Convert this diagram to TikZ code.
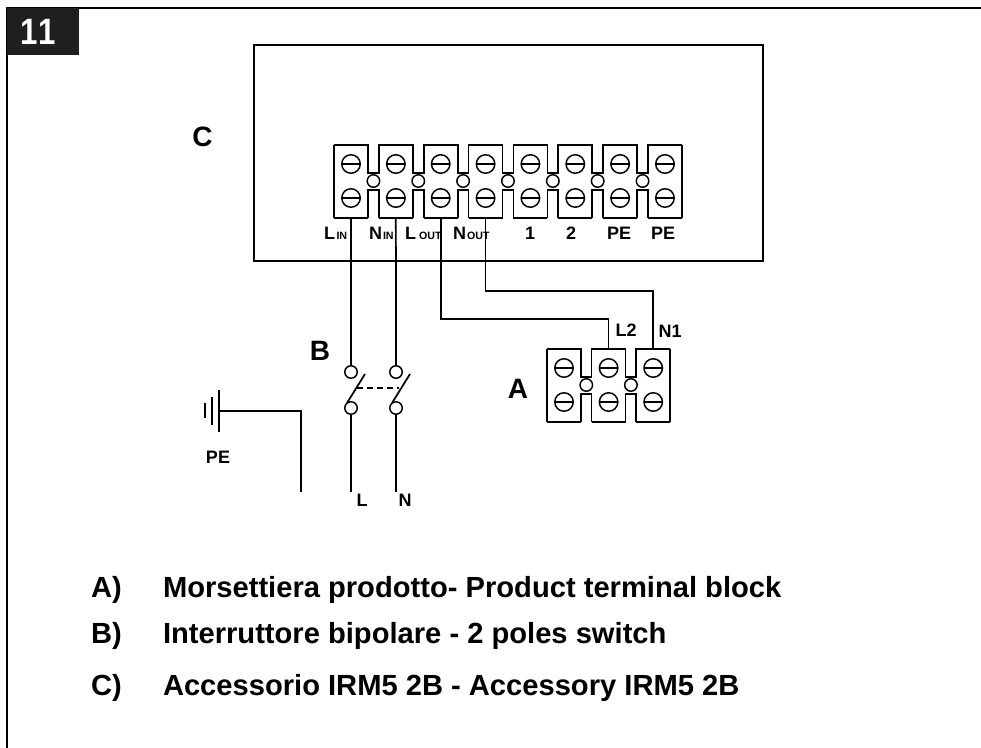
\documentclass[tikz,border=0pt]{standalone}
\usepackage{fontspec}
\usepackage{graphicx}
\setmainfont{Liberation Sans}
\newcommand{\txt}[2]{{\fontsize{#1}{#1}\selectfont\bfseries #2}}
\tikzset{
  x=0.75pt,y=-0.75pt,
  wire/.style={draw=black,line width=1.3pt,line join=miter},
  thinw/.style={draw=black,line width=1pt},
  lab/.style={inner sep=0pt,outer sep=0pt,anchor=base west},
  labc/.style={inner sep=0pt,outer sep=0pt,anchor=base},
  pin/.style={circle,draw=black,line width=1.1pt,fill=white,minimum size=12.5*0.75pt,inner sep=0pt,outer sep=0pt},
  screw/.style={circle,draw=black,line width=1.1pt,minimum size=18.5*0.75pt,inner sep=0pt,outer sep=0pt,
    path picture={\draw[line width=1.1pt] (path picture bounding box.west) -- (path picture bounding box.east);}},
}
% #1 name, #2 left x, #3 top y, #4 pitch, #5 last cell index
\newcommand{\termblock}[5]{%
  \draw[wire] (#2,#3)
  \foreach \i [evaluate=\i as \xl using #2+(\i-1)*#4, evaluate=\i as \xr using #2+(\i-1)*#4+34] in {1,...,#5}{
     -- (\xl,#3) -- (\xr,#3)
     \ifnum\i<#5 -- (\xr,#3+28) -- (\xr+#4-34,#3+28) -- (\xr+#4-34,#3) \fi
  };
  \draw[wire] (#2,#3) -- (#2,#3+73);
  \draw[wire] (#2+#5*#4-#4+34,#3) -- (#2+#5*#4-#4+34,#3+73);
  \foreach \i [evaluate=\i as \xl using #2+(\i-1)*#4, evaluate=\i as \xr using #2+(\i-1)*#4+34] in {1,...,#5}{
     \draw[wire] (\xl,#3+73) -- (\xr,#3+73);
     \node[screw] (#1s\i) at (\xl+17,#3+19) {};
     \node[screw] (#1t\i) at (\xl+17,#3+53) {};
     \coordinate (#1u\i) at (\xl+17,#3);
     \coordinate (#1d\i) at (\xl+17,#3+73);
     \ifnum\i<#5
       \draw[wire] (\xr,#3+73) -- (\xr,#3+45) -- (\xr+#4-34,#3+45) -- (\xr+#4-34,#3+73);
       \node[pin] (#1p\i) at (\xr+#4/2-17,#3+36) {};
     \fi
  }%
}
\begin{document}
\begin{tikzpicture}
\useasboundingbox (0,0) rectangle (981,748);
% frame
\coordinate (fa) at (7,748); \coordinate (fb) at (7,8); \coordinate (fc) at (981,8);
\draw[line width=1.5pt] (fa) -- (fb) -- (fc);
\node[fill=black!88,minimum width=72*0.75pt,minimum height=47*0.75pt,inner sep=0pt,anchor=north west] (tag) at (7,8) {};
\node[labc,text=white] (tagt) at (38.5,44.5) {\scalebox{0.85}[1]{\txt{27.5}{1\kern0.5pt 1}}};
% box C
\node[draw=black,line width=1.3pt,minimum width=509*0.75pt,minimum height=216*0.75pt,inner sep=0pt,anchor=north west] (boxc) at (253,44) {};
\node[labc] (lc) at (202.5,147) {\txt{21}{C}};
\termblock{c}{334}{145}{44.85}{8}
% terminal labels
\node[lab] (l1) at (324,240) {\txt{13.5}{L}};
\node[lab] (l1b) at (336.5,240) {\txt{8}{IN}};
\node[lab] (l2) at (369,240) {\txt{13.5}{N}};
\node[lab] (l2b) at (383,240) {\txt{8}{IN}};
\node[lab] (l3) at (405,240) {\txt{13.5}{L}};
\node[lab] (l3b) at (419,240) {\txt{8}{OUT}};
\node[lab] (l4) at (453,240) {\txt{13.5}{N}};
\node[lab] (l4b) at (467,240) {\txt{8}{OUT}};
\node[labc] (l5) at (530,240) {\txt{13.5}{1}};
\node[labc] (l6) at (571,240) {\txt{13.5}{2}};
\node[labc] (l7) at (619,240) {\txt{13.5}{PE}};
\node[labc] (l8) at (663,240) {\txt{13.5}{PE}};
% block A
\termblock{a}{547}{349}{44.6}{3}
\node[labc] (la) at (518,398) {\txt{21}{A}};
\node[labc] (ll2) at (626,337) {\txt{13.5}{L2}};
\node[labc] (ln1) at (670,338) {\txt{13.5}{N1}};
% switch
\node[labc] (lb) at (320,360) {\txt{21}{B}};
\node[pin] (s1) at (351,372) {};
\node[pin] (s2) at (396,372) {};
\node[pin] (s3) at (351,408) {};
\node[pin] (s4) at (396,408) {};
\coordinate (b1a) at (347,403); \coordinate (b1b) at (365,374);
\coordinate (b2a) at (392,403); \coordinate (b2b) at (410,374);
\draw[wire] (b1a) -- (b1b);
\draw[wire] (b2a) -- (b2b);
\coordinate (dl) at (357,388); \coordinate (dr) at (399,388);
\draw[thinw,dash pattern=on 6*0.75pt off 4*0.75pt] (dl) -- (dr);
\coordinate (e1) at (351,492); \coordinate (e2) at (396,492);
\draw[wire] (cd1) -- (s1);
\draw[wire] (cd2) -- (s2);
\draw[wire] (s3) -- (e1);
\draw[wire] (s4) -- (e2);
\node[labc] (tl) at (362,506) {\txt{13.5}{L}};
\node[labc] (tn) at (405,506) {\txt{13.5}{N}};
% load wires
\coordinate (c3b) at (cd3 |- 0,319);
\coordinate (a2t) at (au2 |- 0,319);
\coordinate (c4b) at (cd4 |- 0,291);
\coordinate (a3t) at (au3 |- 0,291);
\draw[wire] (cd3) -- (c3b) -- (a2t) -- (au2);
\draw[wire] (cd4) -- (c4b) -- (a3t) -- (au3);
% earth
\coordinate (g1a) at (219,390); \coordinate (g1b) at (219,432);
\coordinate (g2a) at (212,397); \coordinate (g2b) at (212,425);
\coordinate (g3a) at (205,403); \coordinate (g3b) at (205,418);
\coordinate (g0) at (219,411); \coordinate (g4) at (301,411); \coordinate (g5) at (301,492);
\draw[wire] (g1a) -- (g1b);
\draw[thinw] (g2a) -- (g2b);
\draw[thinw] (g3a) -- (g3b);
\draw[wire] (g0) -- (g4) -- (g5);
\node[labc] (lpe) at (218,463) {\txt{13.5}{PE}};
% legend
\node[lab] (ta) at (91,597) {\txt{21.85}{A)}};
\node[lab] (tb) at (91,643) {\txt{21.85}{B)}};
\node[lab] (tcc) at (91,695) {\txt{21.85}{C)}};
\node[lab] (ta2) at (163,597) {\txt{21.85}{Morsettiera prodotto- Product terminal block}};
\node[lab] (tb2) at (163,643) {\txt{21.85}{Interruttore bipolare - 2 poles switch}};
\node[lab] (tc2) at (163,695) {\txt{21.85}{Accessorio IRM5 2B - Accessory IRM5 2B}};
\end{tikzpicture}
\end{document}
